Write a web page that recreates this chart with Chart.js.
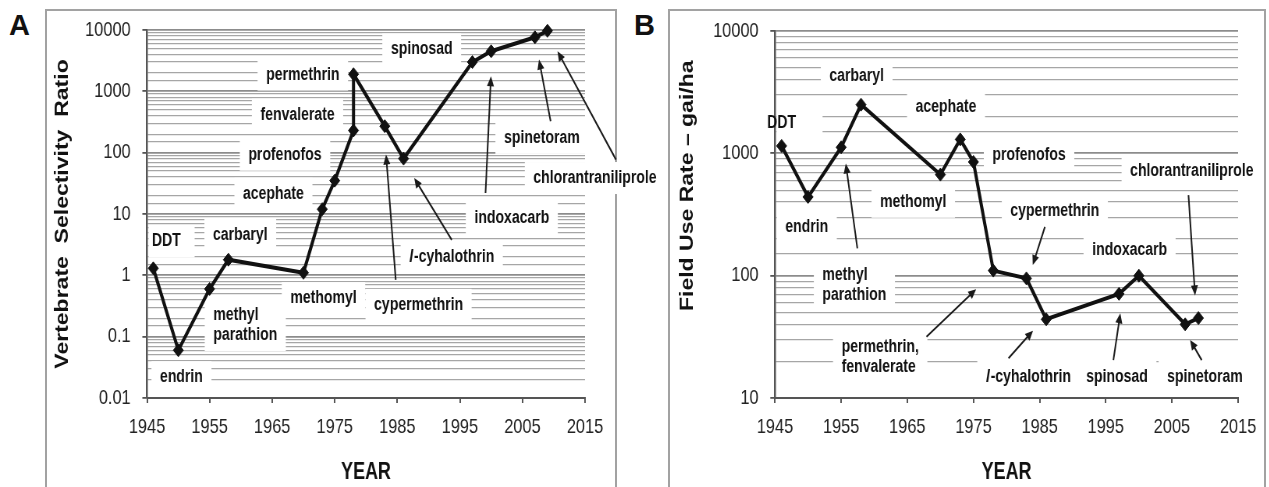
<!DOCTYPE html>
<html>
<head>
<meta charset="utf-8">
<script src="https://cdn.jsdelivr.net/npm/chart.js@4.4.1/dist/chart.umd.min.js"></script>
<style>
  html, body { margin: 0; padding: 0; background: #fff; }
  body { width: 1269px; height: 487px; position: relative; overflow: hidden; }
  .frame { position: absolute; border: 2px solid #a2a2a2; box-sizing: border-box; }
  /* the original figure is a horizontally squeezed Excel chart, so the panels are drawn wide and squeezed back */
  .panel { position: absolute; top: 0; height: 487px; transform: scaleX(0.78); transform-origin: 0 0; }
  .tag { position: absolute; font: bold 29px 'Liberation Sans', Arial, sans-serif; color: #111; }
</style>
</head>
<body>
<div class="frame" style="left:45px;top:9px;width:572px;height:490px"></div>
<div class="frame" style="left:668px;top:9px;width:598px;height:490px"></div>
<div class="tag" style="left:9px;top:9px">A</div>
<div class="tag" style="left:634px;top:9px">B</div>
<div class="panel" style="left:0;width:851px"><canvas id="chartA"></canvas></div>
<div class="panel" style="left:664px;width:776px"><canvas id="chartB"></canvas></div>

<script>
// data
const YEARS_A = [1946, 1950, 1955, 1958, 1970, 1973, 1975, 1978, 1978, 1983, 1986, 1997, 2000, 2007, 2009];
const RATIO_A = [1.3, 0.06, 0.6, 1.8, 1.1, 12, 35, 230, 1900, 270, 80, 3000, 4500, 7600, 9700];
const NAMES_A = ['DDT', 'endrin', 'methyl parathion', 'carbaryl', 'methomyl', 'acephate', 'profenofos',
  'fenvalerate', 'permethrin', 'cypermethrin', 'l-cyhalothrin', 'spinosad', 'indoxacarb', 'spinetoram', 'chlorantraniliprole'];

const YEARS_B = [1946, 1950, 1955, 1958, 1970, 1973, 1975, 1978, 1983, 1986, 1997, 2000, 2007, 2009];
const RATE_B = [1150, 440, 1120, 2500, 670, 1300, 850, 110, 95, 44, 71, 100, 40, 45];
const NAMES_B = ['DDT', 'endrin', 'methyl parathion', 'carbaryl', 'methomyl', 'acephate', 'profenofos',
  'permethrin, fenvalerate', 'cypermethrin', 'l-cyhalothrin', 'spinosad', 'indoxacarb', 'spinetoram', 'chlorantraniliprole'];

const X_TICKS = ['1945', '1955', '1965', '1975', '1985', '1995', '2005', '2015'];
const Y_TICKS_A = ['0.01', '0.1', '1', '10', '100', '1000', '10000'];
const Y_TICKS_B = ['10', '100', '1000', '10000'];

// text labels and arrows, placed in data units (year, value)
const LABELS_A = [
  { text: 'DDT', x: 1948.1, y: 3.56 },
  { text: 'carbaryl', x: 1959.9, y: 4.58 },
  { text: ['methyl', 'parathion'], x: 1960.7, y: 0.155 },
  { text: 'endrin', x: 1950.5, y: 0.0218 },
  { text: 'methomyl', x: 1973.2, y: 0.425 },
  { text: 'cypermethrin', x: 1988.4, y: 0.33 },
  { it: 'l', text: '-cyhalothrin', x: 1993.7, y: 1.98 },
  { text: 'indoxacarb', x: 2003.3, y: 8.6 },
  { text: 'acephate', x: 1965.2, y: 21.4 },
  { text: 'profenofos', x: 1967.05, y: 92.7 },
  { text: 'fenvalerate', x: 1969.05, y: 417 },
  { text: 'permethrin', x: 1969.9, y: 1875 },
  { text: 'spinosad', x: 1988.9, y: 4810 },
  { text: 'spinetoram', x: 2008.1, y: 174 },
  { text: 'chlorantraniliprole', x: 2016.6, y: 38.6 }
];
const ARROWS_A = [
  [1984.75, 0.845, 1983.2, 93],
  [1993.7, 3.8, 1987.7, 38.6],
  [1999.1, 22, 1999.97, 1762],
  [2009.5, 324, 2007.65, 3296],
  [2019.95, 76.9, 2010.6, 4508]
];

const LABELS_B = [
  { text: 'DDT', x: 1946.0, y: 1754 },
  { text: 'carbaryl', x: 1957.35, y: 4276 },
  { text: 'acephate', x: 1970.85, y: 2400 },
  { text: 'endrin', x: 1949.8, y: 251 },
  { text: 'methomyl', x: 1965.9, y: 402 },
  { text: 'profenofos', x: 1983.4, y: 966 },
  { text: 'chlorantraniliprole', x: 2008.0, y: 719 },
  { text: 'cypermethrin', x: 1987.3, y: 339 },
  { text: 'indoxacarb', x: 1998.6, y: 162 },
  { text: ['methyl', 'parathion'], x: 1957.0, y: 84.5 },
  { text: ['permethrin,', 'fenvalerate'], x: 1960.9, y: 21.8 },
  { it: 'l', text: '-cyhalothrin', x: 1983.3, y: 14.9 },
  { text: 'spinosad', x: 1996.7, y: 14.9 },
  { text: 'spinetoram', x: 2010.0, y: 14.9 }
];
const ARROWS_B = [
  [1957.45, 167, 1955.7, 826],
  [1967.9, 31.7, 1975.4, 77.3],
  [1985.8, 251, 1983.96, 122],
  [2007.5, 455, 2008.5, 69],
  [1980.3, 21.1, 1984.0, 35.5],
  [1996.15, 20.4, 1997.2, 49.2],
  [2009.5, 20.4, 2007.75, 29.8]
];

const FONT = "'Liberation Sans', Arial, sans-serif";
const LABEL_FONT = 'bold 18px ' + FONT;
const LABEL_IT_FONT = 'italic bold 18px ' + FONT;
const PAD_X = 11, PAD_Y = 6, LINE_H = 20;

function isDecade(v) {
  const e = Math.log10(v);
  return Math.abs(e - Math.round(e)) < 1e-6;
}

function textWidth(ctx, lbl, line, i) {
  let w = ctx.measureText(line).width;
  if (lbl.it && i === 0) {
    ctx.font = LABEL_IT_FONT;
    w += ctx.measureText(lbl.it).width + 1;
    ctx.font = LABEL_FONT;
  }
  return w;
}

function drawArrow(ctx, x1, y1, x2, y2) {
  const a = Math.atan2(y2 - y1, x2 - x1);
  const L = 10, W = 4.5;
  ctx.beginPath();
  ctx.moveTo(x1, y1);
  ctx.lineTo(x2 - L * 0.7 * Math.cos(a), y2 - L * 0.7 * Math.sin(a));
  ctx.stroke();
  ctx.beginPath();
  ctx.moveTo(x2, y2);
  ctx.lineTo(x2 - L * Math.cos(a) + W * Math.sin(a), y2 - L * Math.sin(a) - W * Math.cos(a));
  ctx.lineTo(x2 - L * Math.cos(a) - W * Math.sin(a), y2 - L * Math.sin(a) + W * Math.cos(a));
  ctx.closePath();
  ctx.fill();
}

// white label boxes knock out the gridlines, then text and arrows on top
const annotPlugin = {
  id: 'annot',
  beforeDatasetsDraw(chart, args, opts) {
    const ctx = chart.ctx;
    const xs = chart.scales.x, ys = chart.scales.y;
    const area = chart.chartArea;
    ctx.save();
    ctx.font = LABEL_FONT;
    ctx.textBaseline = 'middle';
    ctx.textAlign = 'left';
    (opts.labels || []).forEach(lbl => {
      const lines = Array.isArray(lbl.text) ? lbl.text : [lbl.text];
      const cx = xs.getPixelForValue(lbl.x);
      const cy = ys.getPixelForValue(lbl.y);
      const w = Math.max(...lines.map((s, i) => textWidth(ctx, lbl, s, i)));
      const h = lines.length * LINE_H;
      let bx = cx - w / 2 - PAD_X;
      bx = Math.max(bx, area.left + 2);
      ctx.fillStyle = '#fff';
      ctx.fillRect(bx, cy - h / 2 - PAD_Y, w + 2 * PAD_X, h + 2 * PAD_Y);
      ctx.fillStyle = '#111';
      lines.forEach((s, i) => {
        let tx = cx - w / 2;
        const ty = cy - h / 2 + LINE_H * (i + 0.5);
        if (lbl.it && i === 0) {
          ctx.font = LABEL_IT_FONT;
          ctx.fillText(lbl.it, tx, ty);
          tx += ctx.measureText(lbl.it).width + 1;
          ctx.font = LABEL_FONT;
        }
        ctx.fillText(s, tx, ty);
      });
    });
    ctx.strokeStyle = '#1a1a1a';
    ctx.fillStyle = '#1a1a1a';
    ctx.lineWidth = 2;
    (opts.arrows || []).forEach(a => {
      drawArrow(ctx, xs.getPixelForValue(a[0]), ys.getPixelForValue(a[1]),
        xs.getPixelForValue(a[2]), ys.getPixelForValue(a[3]));
    });
    ctx.restore();
  }
};

function makeChart(id, years, values, cfg) {
  const points = years.map((yr, i) => ({ x: yr, y: values[i] }));
  const decade0 = Math.round(Math.log10(cfg.yMin));
  return new Chart(document.getElementById(id), {
    type: 'line',
    data: {
      datasets: [{
        data: points,
        borderColor: '#111',
        borderWidth: 4,
        pointStyle: 'rectRot',
        pointRadius: 6.5,
        pointBackgroundColor: '#111',
        pointBorderColor: '#111',
        pointBorderWidth: 1,
        tension: 0,
        clip: false
      }]
    },
    options: {
      responsive: true,
      maintainAspectRatio: false,
      animation: false,
      layout: { padding: cfg.pad },
      plugins: {
        legend: { display: false },
        tooltip: { enabled: false },
        annot: { labels: cfg.labels, arrows: cfg.arrows }
      },
      scales: {
        x: {
          type: 'linear',
          min: 1945,
          max: 2015,
          ticks: {
            stepSize: 10,
            autoSkip: false,
            maxRotation: 0,
            padding: 12,
            color: '#222',
            font: { family: FONT, size: 21 },
            callback: (v, i) => X_TICKS[i]
          },
          grid: { drawOnChartArea: false, tickLength: 5, color: '#555', lineWidth: 2 },
          border: { color: '#555', width: 2 },
          title: {
            display: true,
            text: 'YEAR',
            color: '#111',
            font: { family: FONT, size: 23, weight: 'bold' },
            padding: { top: 0, bottom: 1 }
          },
          afterFit: s => { s.height = 89; }
        },
        y: {
          type: 'logarithmic',
          min: cfg.yMin,
          max: cfg.yMax,
          ticks: {
            autoSkip: false,
            padding: 15,
            color: '#222',
            font: { family: FONT, size: 21 },
            callback: v => isDecade(v) ? cfg.yTicks[Math.round(Math.log10(v)) - decade0] : ''
          },
          grid: {
            color: c => isDecade(c.tick.value) ? '#8c8c8c' : '#a6a6a6',
            lineWidth: c => isDecade(c.tick.value) ? 1.8 : 1.3,
            tickLength: 6,
            tickColor: c => isDecade(c.tick.value) ? '#555' : 'rgba(0,0,0,0)'
          },
          border: { color: '#555', width: 2.5 },
          title: {
            display: true,
            text: cfg.yTitle,
            color: '#111',
            font: { family: FONT, size: 23, weight: 'bold' },
            padding: { top: cfg.titlePad, bottom: 0 }
          },
          afterFit: s => { s.width = cfg.yWidth; }
        }
      }
    },
    plugins: [annotPlugin]
  });
}

makeChart('chartA', YEARS_A, RATIO_A, {
  yMin: 0.01, yMax: 10000, yTicks: Y_TICKS_A,
  yTitle: 'Vertebrate  Selectivity  Ratio', titlePad: 67, yWidth: 188.5,
  pad: { top: 30, right: 101, bottom: 0, left: 0 },
  labels: LABELS_A, arrows: ARROWS_A
});

makeChart('chartB', YEARS_B, RATE_B, {
  yMin: 10, yMax: 10000, yTicks: Y_TICKS_B,
  yTitle: '         Field Use Rate \u2013 gai/ha', titlePad: 17, yWidth: 142.3,
  pad: { top: 31, right: 40, bottom: 0, left: 0 },
  labels: LABELS_B, arrows: ARROWS_B
});
</script>
</body>
</html>
